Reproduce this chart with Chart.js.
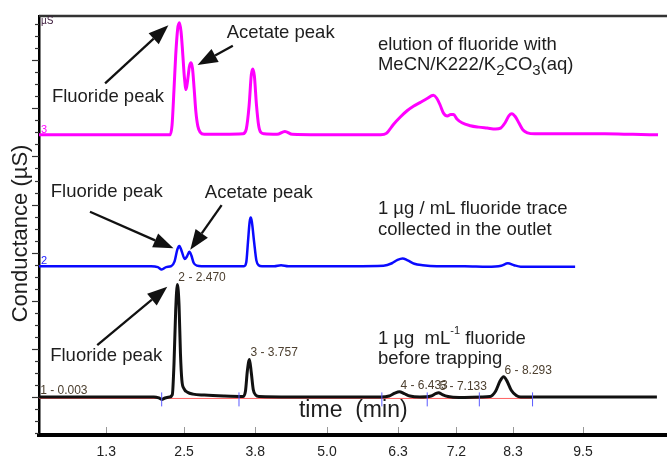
<!DOCTYPE html>
<html>
<head>
<meta charset="utf-8">
<script src="https://cdn.jsdelivr.net/npm/chart.js@4.4.1/dist/chart.umd.min.js"></script>
<style>
  body { margin: 0; background: #fff; overflow: hidden; }
  canvas { display: block; }
</style>
</head>
<body>
<canvas id="chromatogram" width="667" height="459"></canvas>
<script>
const FAMILY = '"Liberation Sans", Arial, sans-serif';

// retention time (min) and signal above each trace's own baseline (µS)
// trace 3: elution with MeCN/K222/K2CO3
const elutionTime = [0, 1.0, 2.0, 2.34, 2.375, 2.41, 2.44, 2.475, 2.505, 2.535, 2.565, 2.595, 2.625, 2.655, 2.685, 2.714, 2.74, 2.77, 2.80, 2.835, 2.88, 2.95, 3.3, 3.64, 3.70, 3.75, 3.79, 3.816, 3.845, 3.88, 3.92, 3.96, 4.02, 4.25, 4.39, 4.52, 5.0, 5.6, 6.1, 6.2, 6.33, 6.45, 6.57, 6.69, 6.80, 6.92, 7.04, 7.10, 7.16, 7.22, 7.29, 7.35, 7.40, 7.46, 7.55, 7.70, 7.85, 8.00, 8.15, 8.24, 8.32, 8.39, 8.44, 8.50, 8.57, 8.64, 8.72, 8.85, 9.5, 10.1, 10.6, 11.05];
const elutionSignal = [0, 0, 0, 0, 0.2, 0.95, 1.65, 2.2, 2.33, 2.15, 1.7, 1.2, 0.94, 1.15, 1.42, 1.5, 1.38, 0.95, 0.48, 0.18, 0.05, 0.01, 0.01, 0.02, 0.12, 0.6, 1.25, 1.37, 1.22, 0.65, 0.2, 0.05, 0.02, 0.01, 0.07, 0.01, 0, 0, 0, 0.03, 0.22, 0.37, 0.5, 0.6, 0.67, 0.75, 0.82, 0.76, 0.62, 0.45, 0.39, 0.42, 0.42, 0.33, 0.25, 0.19, 0.16, 0.14, 0.12, 0.14, 0.25, 0.4, 0.44, 0.38, 0.24, 0.1, 0.04, 0.02, 0.02, 0.02, 0.01, 0];

// trace 2: 1 µg/mL fluoride collected in the outlet
const outletTime = [0, 1.0, 2.0, 2.12, 2.19, 2.27, 2.36, 2.42, 2.47, 2.505, 2.55, 2.60, 2.64, 2.685, 2.72, 2.76, 2.82, 2.9, 3.4, 3.66, 3.70, 3.73, 3.76, 3.78, 3.80, 3.84, 3.88, 3.92, 3.98, 4.2, 4.32, 4.45, 5.0, 5.6, 6.15, 6.3, 6.40, 6.49, 6.58, 6.70, 6.85, 7.1, 7.6, 8.0, 8.25, 8.37, 8.48, 8.6, 9.0, 9.57];
const outletSignal = [0, 0, 0, -0.02, -0.07, -0.02, 0, 0.1, 0.35, 0.42, 0.3, 0.15, 0.2, 0.3, 0.22, 0.07, 0.01, 0, 0, 0, 0.08, 0.5, 0.92, 1.01, 0.92, 0.5, 0.12, 0.02, 0, 0, 0.02, 0, 0, 0, 0.01, 0.06, 0.13, 0.16, 0.12, 0.05, 0.02, 0, 0, -0.01, 0.01, 0.06, 0.02, -0.01, -0.01, -0.01];

// trace 1: 1 µg/mL fluoride before trapping
const standardTime = [0, 1.0, 2.05, 2.14, 2.19, 2.25, 2.33, 2.38, 2.41, 2.44, 2.47, 2.50, 2.525, 2.55, 2.59, 2.65, 2.75, 2.95, 3.3, 3.64, 3.685, 3.72, 3.757, 3.79, 3.825, 3.87, 3.93, 4.5, 5.5, 6.1, 6.25, 6.35, 6.433, 6.52, 6.62, 6.8, 7.0, 7.08, 7.133, 7.2, 7.3, 7.5, 7.9, 8.05, 8.15, 8.23, 8.293, 8.35, 8.43, 8.52, 8.6, 9.5, 10.5, 11.03];
const standardSignal = [0, 0, 0, -0.02, -0.05, -0.02, 0, 0.05, 0.7, 1.8, 2.34, 1.9, 0.9, 0.35, 0.17, 0.1, 0.06, 0.04, 0.02, 0.01, 0.12, 0.55, 0.78, 0.5, 0.15, 0.04, 0.01, 0, 0, 0, 0.02, 0.08, 0.11, 0.07, 0.02, 0, 0.02, 0.07, 0.09, 0.05, 0.01, -0.01, 0, 0.01, 0.12, 0.33, 0.42, 0.34, 0.14, 0.03, 0, 0, 0, 0];

// stacking offsets of traces 3, 2, 1
const traceOffsets = [5.45, 2.72, 0];
const traceNumbers = ['3', '2', '1'];

// integrated peaks of trace 1
const peakTimes = [0.003, 2.470, 3.757, 6.433, 7.133, 8.293];
const peakSignal = [0, 2.34, 0.78, 0.11, 0.09, 0.42];
const markerTimes = [2.19, 3.57, 6.12, 6.93, 7.86, 8.81];
const integrationEnd = 8.81;

// x axis
const tickPositions = [1.2, 2.59, 3.86, 5.14, 6.41, 7.45, 8.46, 9.71];
const tickLabels = ['1.3', '2.5', '3.8', '5.0', '6.3', '7.2', '8.3', '9.5'];

const toPoints = (times, values, offset) => times.map((t, i) => ({ x: t, y: values[i] + offset }));

// text annotations in data coordinates (time, µS)
const notes = [
  { t: 0.23, v: 6.24, runs: [['Fluoride peak']] },
  { t: 3.35, v: 7.57, runs: [['Acetate peak']] },
  { t: 0.21, v: 4.27, runs: [['Fluoride peak']] },
  { t: 2.96, v: 4.24, runs: [['Acetate peak']] },
  { t: 0.20, v: 0.85, runs: [['Fluoride peak']] },
  { t: 6.05, v: 7.32, runs: [['elution of fluoride with']] },
  { t: 6.05, v: 6.90, runs: [['MeCN/K222/K'], ['2', 'sub'], ['CO'], ['3', 'sub'], ['(aq)']] },
  { t: 6.05, v: 3.91, runs: [['1 µg / mL fluoride trace']] },
  { t: 6.05, v: 3.47, runs: [['collected in the outlet']] },
  { t: 6.05, v: 1.21, runs: [['1 µg  mL'], ['-1', 'sup'], [' fluoride']] },
  { t: 6.05, v: 0.79, runs: [['before trapping']] }
];
const arrows = [
  { from: [1.18, 6.52], to: [2.31, 7.73] },
  { from: [3.46, 7.30], to: [2.83, 6.90] },
  { from: [0.91, 3.85], to: [2.40, 3.09] },
  { from: [3.26, 3.99], to: [2.70, 3.06] },
  { from: [1.04, 1.08], to: [2.29, 2.29] }
];

function drawArrow(ctx, x1, y1, x2, y2) {
  const ang = Math.atan2(y2 - y1, x2 - x1);
  const head = 20, half = 7.5;
  const bx = x2 - Math.cos(ang) * head, by = y2 - Math.sin(ang) * head;
  ctx.beginPath();
  ctx.moveTo(x1, y1);
  ctx.lineTo(bx, by);
  ctx.stroke();
  ctx.beginPath();
  ctx.moveTo(x2, y2);
  ctx.lineTo(bx + Math.sin(ang) * half, by - Math.cos(ang) * half);
  ctx.lineTo(bx - Math.sin(ang) * half, by + Math.cos(ang) * half);
  ctx.closePath();
  ctx.fill();
}

function drawRuns(ctx, x, y, runs) {
  for (const [text, kind] of runs) {
    let size = 18.5, dy = 0;
    if (kind === 'sub') { size = 15; dy = 6; }
    if (kind === 'sup') { size = 11; dy = -8; }
    ctx.font = `${size}px ${FAMILY}`;
    ctx.fillText(text, x, y + dy);
    x += ctx.measureText(text).width;
  }
}

const decorations = {
  id: 'decorations',
  afterDatasetsDraw(chart) {
    const { ctx, chartArea: area, scales: { x, y } } = chart;
    const px = t => x.getPixelForValue(t);
    const py = v => y.getPixelForValue(v);
    ctx.save();

    // top frame
    ctx.strokeStyle = '#333';
    ctx.lineWidth = 2.5;
    ctx.beginPath();
    ctx.moveTo(area.left, area.top);
    ctx.lineTo(area.right, area.top);
    ctx.stroke();

    // y ticks, major every 1 µS, minor every 0.25
    ctx.lineWidth = 1.2;
    for (let k = Math.ceil(y.min * 4); k <= Math.floor(y.max * 4); k++) {
      const yy = Math.round(py(k / 4)) + 0.5;
      const len = k % 4 === 0 ? 7 : 4;
      ctx.beginPath();
      ctx.moveTo(area.left - len, yy);
      ctx.lineTo(area.left, yy);
      ctx.stroke();
    }

    // x ticks point into the plot
    ctx.strokeStyle = '#999';
    ctx.lineWidth = 1;
    tickPositions.forEach(t => {
      const xx = Math.round(px(t)) + 0.5;
      ctx.beginPath();
      ctx.moveTo(xx, area.bottom - 2);
      ctx.lineTo(xx, area.bottom - 8);
      ctx.stroke();
    });

    // trace numbers and unit
    ctx.textAlign = 'left';
    ctx.textBaseline = 'alphabetic';
    ctx.font = `11px ${FAMILY}`;
    ctx.fillStyle = '#ff00ff';
    ctx.fillText(traceNumbers[0], area.left + 2, py(traceOffsets[0]) - 2);
    ctx.fillStyle = '#2020ff';
    ctx.fillText(traceNumbers[1], area.left + 2, py(traceOffsets[1]) - 2);
    ctx.font = `10px ${FAMILY}`;
    ctx.fillStyle = '#402040';
    ctx.fillText('µS', area.left + 2, area.top + 8);

    // peak labels
    ctx.font = `12px ${FAMILY}`;
    ctx.fillStyle = '#4d4030';
    peakTimes.forEach((t, i) => {
      ctx.fillText(`${i + 1} - ${t.toFixed(3)}`, px(t) + 1, py(peakSignal[i]) - 3);
    });

    // arrows
    ctx.strokeStyle = '#111';
    ctx.fillStyle = '#111';
    ctx.lineWidth = 2.3;
    arrows.forEach(a => drawArrow(ctx, px(a.from[0]), py(a.from[1]), px(a.to[0]), py(a.to[1])));

    // notes
    ctx.fillStyle = '#1e1e1e';
    ctx.textBaseline = 'middle';
    notes.forEach(n => drawRuns(ctx, px(n.t), py(n.v), n.runs));

    // axis titles
    ctx.textAlign = 'center';
    ctx.font = `23px ${FAMILY}`;
    ctx.fillText('time  (min)', px(5.61), py(-0.29));
    ctx.save();
    ctx.translate(area.left - 18, py(3.4));
    ctx.rotate(-Math.PI / 2);
    ctx.font = `22px ${FAMILY}`;
    ctx.fillText('Conductance (µS)', 0, 0);
    ctx.restore();

    ctx.restore();
  }
};

const lineStyle = { pointRadius: 0, cubicInterpolationMode: 'monotone', fill: false };

new Chart(document.getElementById('chromatogram'), {
  type: 'line',
  data: {
    datasets: [
      {
        type: 'scatter',
        data: markerTimes.map(t => ({ x: t, y: -0.05 })),
        pointStyle: 'line', rotation: 90, pointRadius: 7,
        borderColor: '#5b5bff', borderWidth: 1, showLine: false
      },
      { ...lineStyle, data: toPoints(standardTime, standardSignal, traceOffsets[2]), borderColor: '#111', borderWidth: 3 },
      { ...lineStyle, data: [{ x: 0, y: -0.03 }, { x: integrationEnd, y: -0.03 }], borderColor: '#ff6060', borderWidth: 1 },
      { ...lineStyle, data: toPoints(outletTime, outletSignal, traceOffsets[1]), borderColor: '#0a0aff', borderWidth: 2.5 },
      { ...lineStyle, data: toPoints(elutionTime, elutionSignal, traceOffsets[0]), borderColor: '#ff00ff', borderWidth: 3 }
    ]
  },
  options: {
    responsive: false,
    animation: false,
    events: [],
    layout: { autoPadding: false, padding: { left: 39, top: 16, right: 0, bottom: -10 } },
    plugins: { legend: { display: false }, tooltip: { enabled: false } },
    scales: {
      x: {
        type: 'linear',
        min: 0,
        max: 11.21,
        afterBuildTicks: scale => { scale.ticks = tickPositions.map(value => ({ value })); },
        grid: { display: false, drawTicks: false },
        border: { display: true, color: '#000', width: 4 },
        ticks: {
          autoSkip: false, maxRotation: 0, padding: 10,
          color: '#222',
          font: { family: FAMILY, size: 14, lineHeight: 1 },
          callback: (value, index) => tickLabels[index]
        }
      },
      y: {
        type: 'linear',
        min: -0.79,
        max: 7.92,
        grid: { display: false, drawTicks: false },
        border: { display: true, color: '#000', width: 2.5 },
        ticks: { display: false }
      }
    }
  },
  plugins: [decorations]
});
</script>
</body>
</html>
